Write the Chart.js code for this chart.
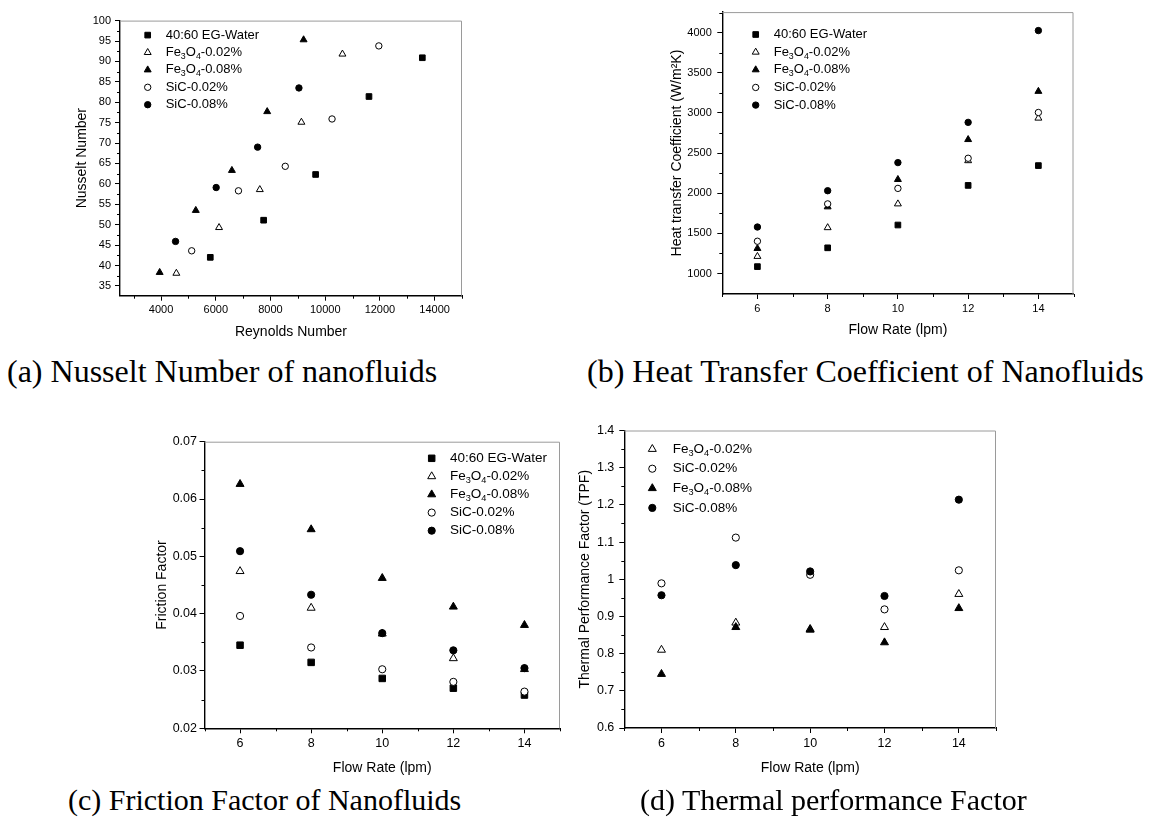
<!DOCTYPE html>
<html>
<head>
<meta charset="utf-8">
<script src="https://cdn.jsdelivr.net/npm/chart.js@4.4.0/dist/chart.umd.min.js"></script>
<style>
  html, body { margin: 0; padding: 0; background: #fff; }
  body { width: 1150px; height: 828px; position: relative; overflow: hidden; }
  .box { position: absolute; }
  .cap { position: absolute; font-family: 'Liberation Serif', 'Times New Roman', serif; color: #000; white-space: nowrap; line-height: 1; }
</style>
</head>
<body>
<div class="box" style="left:72px;top:10px;width:410px;height:335px"><canvas id="nuChart"></canvas></div>
<div class="box" style="left:664px;top:0px;width:430px;height:341px"><canvas id="htcChart"></canvas></div>
<div class="box" style="left:150px;top:430px;width:430px;height:349px"><canvas id="ffChart"></canvas></div>
<div class="box" style="left:570px;top:418px;width:446px;height:361px"><canvas id="tpfChart"></canvas></div>

<div class="cap" style="left:7px;top:355px;font-size:32px">(a) Nusselt Number of nanofluids</div>
<div class="cap" style="left:587px;top:355px;font-size:32px">(b) Heat Transfer Coefficient of Nanofluids</div>
<div class="cap" style="left:68px;top:785px;font-size:30px">(c) Friction Factor of Nanofluids</div>
<div class="cap" style="left:640px;top:785px;font-size:30px">(d) Thermal performance Factor</div>

<script>
const FONT = "'Liberation Sans', Arial, Helvetica, sans-serif";

/* ===== DATA ===== */
// (a) Nusselt number against Reynolds number
const nuWaterRe = [5800, 7750, 9650, 11600, 13550];
const nuWater   = [42.0, 51.1, 62.3, 81.4, 90.9];
const nuFe02Re  = [4560, 6120, 7610, 9130, 10630];
const nuFe02    = [38.1, 49.3, 58.6, 75.1, 91.8];
const nuFe08Re  = [3950, 5270, 6590, 7880, 9210];
const nuFe08    = [38.3, 53.5, 63.3, 77.7, 95.3];
const nuSic02Re = [5120, 6830, 8540, 10250, 11960];
const nuSic02   = [43.6, 58.3, 64.3, 75.9, 93.8];
const nuSic08Re = [4530, 6015, 7530, 9040];
const nuSic08   = [45.9, 59.1, 69.0, 83.5];

// flow rates (lpm) shared by (b), (c), (d)
const flowRates = [6, 8, 10, 12, 14];

// (b) heat transfer coefficient, W/m2K
const htcWater = [1086, 1320, 1604, 2097, 2344];
const htcFe02  = [1213, 1571, 1867, 2405, 2935];
const htcFe08  = [1312, 1830, 2171, 2668, 3268];
const htcSic02 = [1402, 1867, 2060, 2435, 3005];
const htcSic08 = [1579, 2031, 2381, 2882, 4025];

// (c) friction factor
const ffWater = [0.0345, 0.0315, 0.0287, 0.0270, 0.0258];
const ffFe02  = [0.0474, 0.0410, 0.0365, 0.0322, 0.0303];
const ffFe08  = [0.0626, 0.0547, 0.0462, 0.0412, 0.0380];
const ffSic02 = [0.0396, 0.0341, 0.0303, 0.0281, 0.0264];
const ffSic08 = [0.0509, 0.0433, 0.0366, 0.0336, 0.0305];

// (d) thermal performance factor
const tpfFe02  = [0.810, 0.883, 0.866, 0.871, 0.960];
const tpfSic02 = [0.989, 1.112, 1.012, 0.919, 1.024];
const tpfFe08  = [0.745, 0.871, 0.864, 0.830, 0.922];
const tpfSic08 = [0.957, 1.038, 1.021, 0.955, 1.214];

// labelled ticks
const nuXLabels   = [4000, 6000, 8000, 10000, 12000, 14000];
const nuYLabels   = [35, 40, 45, 50, 55, 60, 65, 70, 75, 80, 85, 90, 95, 100];
const flowLabels  = [6, 8, 10, 12, 14];
const htcYLabels  = [1000, 1500, 2000, 2500, 3000, 3500, 4000];
const ffYLabels   = [0.02, 0.03, 0.04, 0.05, 0.06, 0.07];
const tpfYLabels  = [0.6, 0.7, 0.8, 0.9, 1, 1.1, 1.2, 1.3, 1.4];

const LBL_WATER = '40:60 EG-Water';
const LBL_FE02  = 'Fe₃O₄-0.02%';
const LBL_FE08  = 'Fe₃O₄-0.08%';
const LBL_SIC02 = 'SiC-0.02%';
const LBL_SIC08 = 'SiC-0.08%';

/* ===== HELPERS ===== */
function rangeTicks(start, end, step) {
  const out = [];
  for (let k = 0; start + k * step <= end + step * 1e-6; k++) out.push(+(start + k * step).toFixed(6));
  return out;
}
function isLabel(list, v) { return list.some(l => Math.abs(l - v) < 1e-9); }

const MARK = {
  water: { style: 'rect', fill: true },
  fe02:  { style: 'triangle', fill: false },
  fe08:  { style: 'triangle', fill: true },
  sic02: { style: 'circle', fill: false },
  sic08: { style: 'circle', fill: true }
};

function series(label, kind, xs, ys, big) {
  const m = MARK[kind];
  const r = m.style === 'circle' ? (big ? 3.6 : 3.2) : (big ? 4.6 : 4.0);
  return {
    label,
    data: xs.map((x, i) => ({ x, y: ys[i] })),
    pointStyle: m.style,
    pointRadius: r,
    pointHoverRadius: r,
    backgroundColor: m.fill ? '#000' : '#fff',
    borderColor: '#000',
    borderWidth: 1
  };
}

function axisCfg(o) {
  const horiz = o.horizontal;
  return {
    type: 'linear',
    position: horiz ? 'bottom' : 'left',
    min: o.min, max: o.max,
    afterFit: s => { if (horiz) s.height = o.size; else s.width = o.size; },
    afterBuildTicks: s => { s.ticks = o.ticks.map(v => ({ value: v })); },
    ticks: {
      autoSkip: false, maxRotation: 0, minRotation: 0, padding: o.pad, color: '#000',
      font: { family: FONT, size: o.font },
      callback: v => isLabel(o.labels, v) ? String(v) : ''
    },
    grid: {
      drawOnChartArea: false, drawTicks: true, tickLength: 5, tickWidth: 1,
      // minor ticks are drawn shorter by the minorTicks plugin
      tickColor: c => (c.tick && isLabel(o.labels, c.tick.value)) ? '#000' : 'rgba(0,0,0,0)'
    },
    border: { display: true, color: '#000', width: 1.4 },
    title: {
      display: true, text: o.title, color: '#000',
      font: { family: FONT, size: 14 },
      padding: { top: o.titlePad, bottom: o.titlePad }
    }
  };
}

/* ===== PLUGINS ===== */
const SUBS = { '₀': '0', '₁': '1', '₂': '2', '₃': '3', '₄': '4', '₅': '5', '₆': '6', '₇': '7', '₈': '8', '₉': '9' };

function drawLabel(ctx, text, x, y, size) {
  let buf = '';
  const flush = () => {
    if (!buf) return;
    ctx.font = `${size}px ${FONT}`;
    ctx.fillText(buf, x, y);
    x += ctx.measureText(buf).width;
    buf = '';
  };
  for (const ch of text) {
    if (SUBS[ch]) {
      flush();
      ctx.font = `${size * 0.68}px ${FONT}`;
      ctx.fillText(SUBS[ch], x, y + size * 0.32);
      x += ctx.measureText(SUBS[ch]).width;
    } else buf += ch;
  }
  flush();
}

function markPoint(ctx, style, r, x, y) {
  if (Chart.helpers && Chart.helpers.drawPoint) {
    Chart.helpers.drawPoint(ctx, { pointStyle: style, radius: r, rotation: 0, borderWidth: 1 }, x, y);
    return;
  }
  ctx.beginPath();
  if (style === 'circle') ctx.arc(x, y, r, 0, Math.PI * 2);
  else if (style === 'rect') { const s = r * Math.SQRT1_2; ctx.rect(x - s, y - s, 2 * s, 2 * s); }
  else { ctx.moveTo(x, y - r); ctx.lineTo(x + r * 0.866, y + r / 2); ctx.lineTo(x - r * 0.866, y + r / 2); ctx.closePath(); }
  ctx.fill(); ctx.stroke();
}

const plotLegend = {
  id: 'plotLegend',
  afterDraw(chart, args, opts) {
    const { ctx, chartArea: a } = chart;
    ctx.save();
    ctx.textBaseline = 'middle';
    ctx.textAlign = 'left';
    chart.data.datasets.forEach((ds, i) => {
      const x = a.left + opts.dx, y = a.top + opts.dy + i * opts.row;
      ctx.fillStyle = ds.backgroundColor;
      ctx.strokeStyle = ds.borderColor;
      ctx.lineWidth = ds.borderWidth;
      markPoint(ctx, ds.pointStyle, ds.pointRadius, x, y);
      ctx.fillStyle = '#000';
      drawLabel(ctx, ds.label, x + opts.gap, y, opts.font);
    });
    ctx.restore();
  }
};

const framePlugin = {
  id: 'frame',
  beforeDatasetsDraw(chart) {
    const { ctx, chartArea: a } = chart;
    ctx.save();
    ctx.strokeStyle = '#9a9a9a';
    ctx.lineWidth = 1;
    ctx.beginPath();
    ctx.moveTo(a.left, a.top + 0.5);
    ctx.lineTo(a.right - 0.5, a.top + 0.5);
    ctx.lineTo(a.right - 0.5, a.bottom);
    ctx.stroke();
    ctx.restore();
  }
};

const minorTicks = {
  id: 'minorTicks',
  afterDraw(chart) {
    const { ctx, chartArea: a } = chart;
    ctx.save();
    ctx.strokeStyle = '#000';
    ctx.lineWidth = 1;
    ctx.beginPath();
    const xs = chart.scales.x, ys = chart.scales.y;
    xs.ticks.forEach(t => {
      if (t.label !== '') return;
      const px = Math.round(xs.getPixelForValue(t.value)) + 0.5;
      ctx.moveTo(px, a.bottom); ctx.lineTo(px, a.bottom + 3);
    });
    ys.ticks.forEach(t => {
      if (t.label !== '') return;
      const py = Math.round(ys.getPixelForValue(t.value)) + 0.5;
      ctx.moveTo(a.left, py); ctx.lineTo(a.left - 3, py);
    });
    ctx.stroke();
    ctx.restore();
  }
};

/* ===== CHART CREATION ===== */
function makeChart(id, datasets, layoutPad, xAxis, yAxis, legend) {
  // later series sit on top, as in the figure
  datasets.forEach((ds, i) => { ds.order = datasets.length - i; });
  return new Chart(document.getElementById(id), {
    type: 'scatter',
    data: { datasets },
    options: {
      responsive: true,
      maintainAspectRatio: false,
      animation: false,
      layout: { padding: layoutPad },
      scales: { x: axisCfg(Object.assign({ horizontal: true }, xAxis)), y: axisCfg(yAxis) },
      plugins: { legend: { display: false }, tooltip: { enabled: false }, plotLegend: legend }
    },
    plugins: [framePlugin, minorTicks, plotLegend]
  });
}

makeChart('nuChart', [
    series(LBL_WATER, 'water', nuWaterRe, nuWater),
    series(LBL_FE02, 'fe02', nuFe02Re, nuFe02),
    series(LBL_FE08, 'fe08', nuFe08Re, nuFe08),
    series(LBL_SIC02, 'sic02', nuSic02Re, nuSic02),
    series(LBL_SIC08, 'sic08', nuSic08Re, nuSic08)
  ],
  { left: 0, top: 10.5, right: 20, bottom: 0 },
  { min: 2500, max: 15000, ticks: rangeTicks(3000, 15000, 1000), labels: nuXLabels, size: 49.3, pad: 3, font: 11, title: 'Reynolds Number', titlePad: 4.6 },
  { min: 32.6, max: 100, ticks: rangeTicks(35, 100, 2.5), labels: nuYLabels, size: 48, pad: 4, font: 11, title: 'Nusselt Number', titlePad: 1.6 },
  { dx: 27.7, dy: 14.5, row: 17.4, gap: 18, font: 13 }
);

makeChart('htcChart', [
    series(LBL_WATER, 'water', flowRates, htcWater),
    series(LBL_FE02, 'fe02', flowRates, htcFe02),
    series(LBL_FE08, 'fe08', flowRates, htcFe08),
    series(LBL_SIC02, 'sic02', flowRates, htcSic02),
    series(LBL_SIC08, 'sic08', flowRates, htcSic08)
  ],
  { left: 0, top: 9.3, right: 20.5, bottom: 0 },
  { min: 5, max: 15, ticks: rangeTicks(5, 15, 1), labels: flowLabels, size: 47, pad: 3, font: 11, title: 'Flow Rate (lpm)', titlePad: 2.1 },
  { min: 745, max: 4255, ticks: rangeTicks(1000, 4250, 250), labels: htcYLabels, size: 58.3, pad: 5.5, font: 11, title: 'Heat transfer Coefficient (W/m²K)', titlePad: 4.3 },
  { dx: 33.4, dy: 22.4, row: 17.65, gap: 18, font: 13 }
);

makeChart('ffChart', [
    series(LBL_WATER, 'water', flowRates, ffWater, true),
    series(LBL_FE02, 'fe02', flowRates, ffFe02, true),
    series(LBL_FE08, 'fe08', flowRates, ffFe08, true),
    series(LBL_SIC02, 'sic02', flowRates, ffSic02, true),
    series(LBL_SIC08, 'sic08', flowRates, ffSic08, true)
  ],
  { left: 0, top: 11.7, right: 20, bottom: 0 },
  { min: 5, max: 15, ticks: rangeTicks(5, 15, 1), labels: flowLabels, size: 50.7, pad: 3, font: 12.5, title: 'Flow Rate (lpm)', titlePad: 2.6 },
  { min: 0.02, max: 0.07, ticks: rangeTicks(0.02, 0.07, 0.005), labels: ffYLabels, size: 54.5, pad: 2.5, font: 12.5, title: 'Friction Factor', titlePad: 3.3 },
  { dx: 227.2, dy: 16.6, row: 18.1, gap: 18.3, font: 13.5 }
);

makeChart('tpfChart', [
    series(LBL_FE02, 'fe02', flowRates, tpfFe02, true),
    series(LBL_SIC02, 'sic02', flowRates, tpfSic02, true),
    series(LBL_FE08, 'fe08', flowRates, tpfFe08, true),
    series(LBL_SIC08, 'sic08', flowRates, tpfSic08, true)
  ],
  { left: 0, top: 10.7, right: 20, bottom: 0 },
  { min: 5, max: 15, ticks: rangeTicks(5, 15, 1), labels: flowLabels, size: 51, pad: 3, font: 12.5, title: 'Flow Rate (lpm)', titlePad: 2.6 },
  { min: 0.6, max: 1.4, ticks: rangeTicks(0.6, 1.4, 0.05), labels: tpfYLabels, size: 54.3, pad: 5, font: 12.5, title: 'Thermal Performance Factor (TPF)', titlePad: 7.1 },
  { dx: 28, dy: 18.6, row: 19.6, gap: 20.4, font: 13.5 }
);
</script>
</body>
</html>
